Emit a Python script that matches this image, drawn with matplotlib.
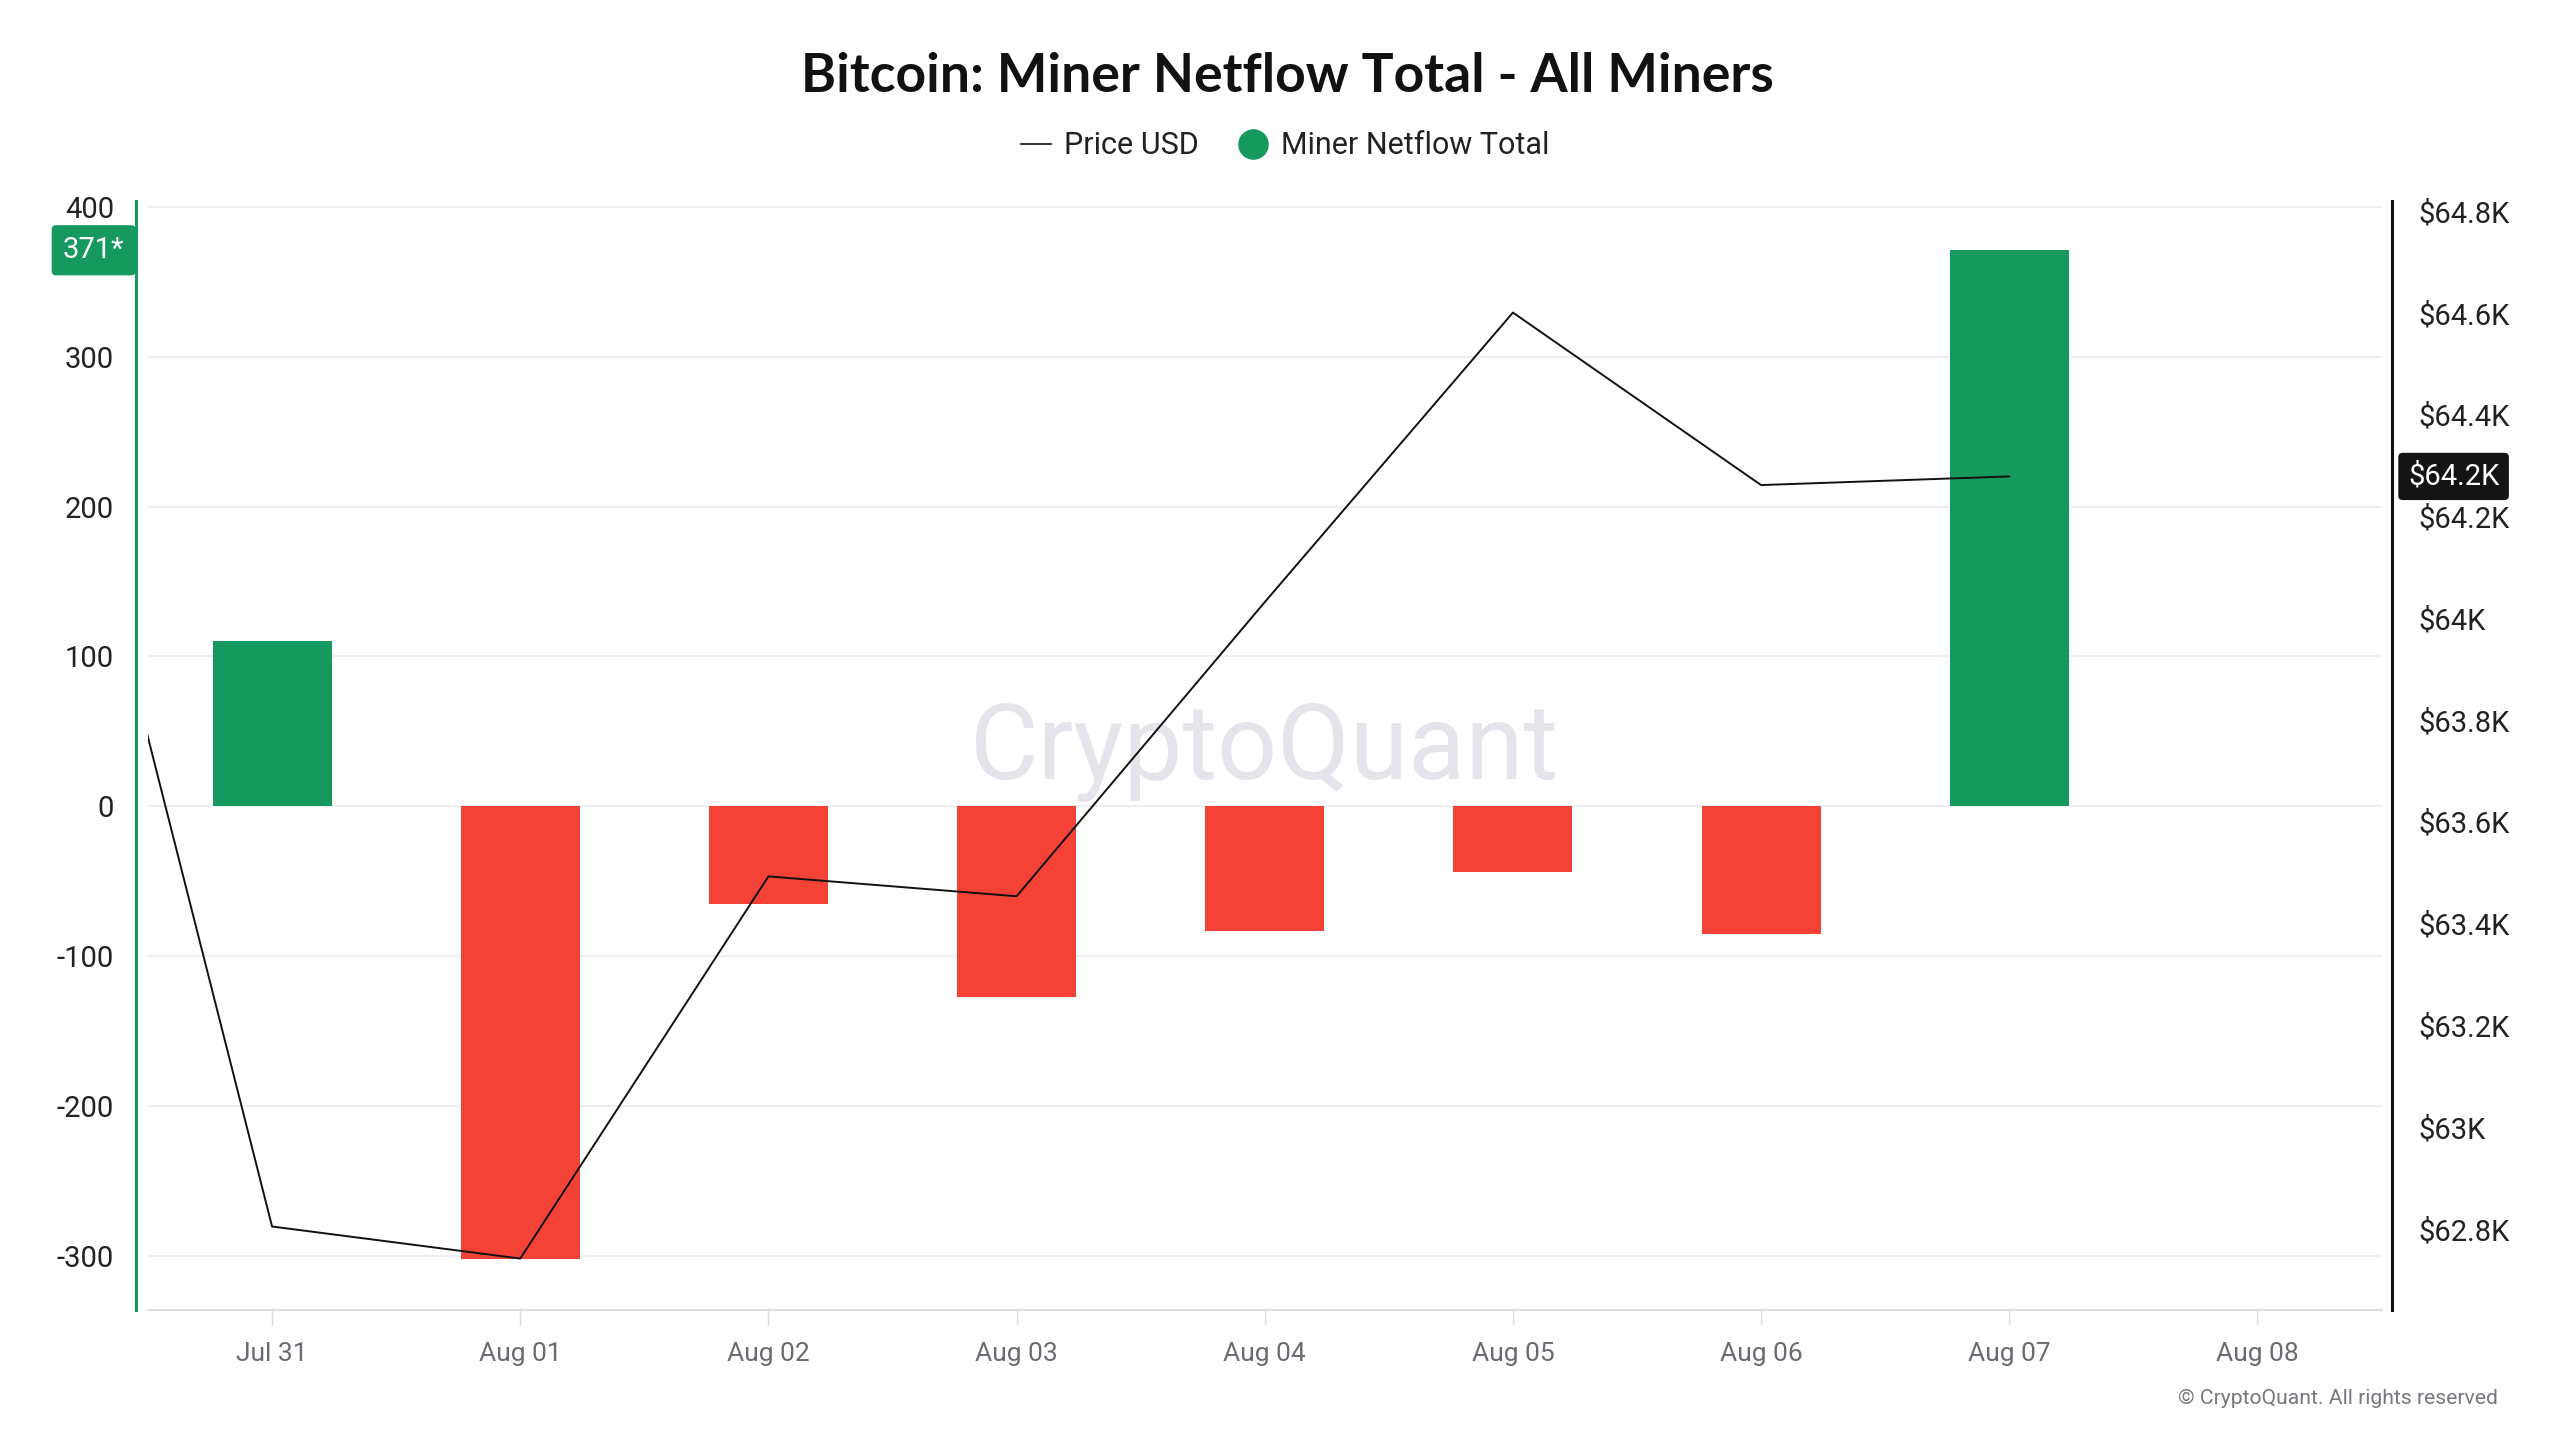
import matplotlib
matplotlib.use("Agg")
import matplotlib.pyplot as plt
from matplotlib.lines import Line2D

# ---------------- data ----------------
tick_labels = ["Jul 31", "Aug 01", "Aug 02", "Aug 03", "Aug 04", "Aug 05", "Aug 06", "Aug 07", "Aug 08"]
bar_dates = ["Jul 31", "Aug 01", "Aug 02", "Aug 03", "Aug 04", "Aug 05", "Aug 06", "Aug 07"]
netflow = [110, -302, -65, -127, -83, -44, -85, 371]
price_dates = ["Jul 30", "Jul 31", "Aug 01", "Aug 02", "Aug 03", "Aug 04", "Aug 05", "Aug 06", "Aug 07"]
price_usd = [64727, 62805, 62742, 63493, 63454, 64032, 64601, 64262, 64279]
left_ticks = [-300, -200, -100, 0, 100, 200, 300, 400]
right_ticks = [62800, 63000, 63200, 63400, 63600, 63800, 64000, 64200, 64400, 64600, 64800]

title = "Bitcoin: Miner Netflow Total - All Miners"
legend_labels = ["Price USD", "Miner Netflow Total"]

GREEN = "#16995f"
RED = "#f44336"
FONT = "Roboto"

all_days = ["Jul 30"] + tick_labels
pos = {d: i - 1 for i, d in enumerate(all_days)}

W, H = 2560, 1440
fig = plt.figure(figsize=(W / 100, H / 100), dpi=100)
fig.patch.set_facecolor("white")

ax_left, ax_right = 148 / W, 2381.5 / W
ax_bottom, ax_top = 1 - 1310 / H, 1 - 200.8 / H
ax = fig.add_axes([ax_left, ax_bottom, ax_right - ax_left, ax_top - ax_bottom])
ax2 = ax.twinx()

# bars
bx = [pos[d] for d in bar_dates]
colors = [GREEN if v >= 0 else RED for v in netflow]
ax.bar(bx, netflow, width=0.48, color=colors, zorder=2, linewidth=0)

ax.set_xlim(-0.5, 8.5)
ax.set_ylim(-336, 404)
ax.set_yticks(left_ticks)
ax.set_yticklabels([str(t) for t in left_ticks])
ax.set_xticks(range(len(tick_labels)))
ax.set_xticklabels(tick_labels)
ax.tick_params(axis="x", length=10.8, width=1, color="#dcdce2", pad=12,
               labelsize=19, labelcolor="#6b6b72", labelfontfamily=FONT)
ax.tick_params(axis="y", length=0, pad=16, labelsize=21, labelcolor="#222222", labelfontfamily=FONT)
ax.yaxis.grid(True, color="#efeff3", linewidth=1.5, zorder=0)
ax.set_axisbelow(True)

for s in ["top", "right"]:
    ax.spines[s].set_visible(False)
ax.spines["left"].set_color(GREEN)
ax.spines["left"].set_linewidth(2.2)
ax.spines["left"].set_position(("outward", 8.6))
ax.spines["bottom"].set_color("#dcdce2")
ax.spines["bottom"].set_linewidth(1.5)

# watermark
ax.text(0.5, 1 - (752 - 200.8) / (1310 - 200.8), "CryptoQuant", transform=ax.transAxes,
        ha="center", va="center", fontsize=76, color="#e4e5eb", family=FONT, zorder=1)

# price line
px = [pos[d] for d in price_dates]
ax2.plot(px, price_usd, color="#111111", linewidth=1.4, zorder=5)
p_top = 64800 - (397 - 404) * 2.9455
p_bot = 64800 - (397 + 336) * 2.9455
ax2.set_ylim(p_bot, p_top)
ax2.set_yticks(right_ticks)
ax2.set_yticklabels([f"${t/1000:g}K" for t in right_ticks])
ax2.tick_params(axis="y", length=0, pad=19, labelsize=21, labelcolor="#222222", labelfontfamily=FONT)
for s in ["top", "left", "bottom"]:
    ax2.spines[s].set_visible(False)
ax2.spines["right"].set_color("#111111")
ax2.spines["right"].set_linewidth(2.2)
ax2.spines["right"].set_position(("outward", 7.5))
ax2.set_xlim(-0.5, 8.5)

# value tags
last_price = price_usd[-1]
ax2.annotate(f"${int(last_price / 100) / 10}K", xy=(1, last_price), xycoords=("axes fraction", "data"),
             xytext=(19, 0), textcoords="offset points", ha="left", va="center",
             fontsize=21, color="white", family=FONT,
             bbox=dict(boxstyle="round,pad=0.33,rounding_size=0.15", fc="#141414", ec="none"),
             annotation_clip=False)
last_flow = netflow[-1]
ax.annotate(f"{last_flow}*", xy=(0, last_flow), xycoords=("axes fraction", "data"),
            xytext=(-17, 0), textcoords="offset points", ha="right", va="center",
            fontsize=21, color="white", family=FONT,
            bbox=dict(boxstyle="round,pad=0.38,rounding_size=0.15", fc=GREEN, ec="none"),
            annotation_clip=False)

# title & legend
fig.text(0.503, 1 - 76 / H, title, ha="center", va="center", fontsize=38.5, fontweight="bold",
         color="#111111", family="Lato")
handles = [Line2D([0], [0], color="#111111", linewidth=1.2),
           Line2D([0], [0], marker="o", linestyle="none", markersize=21, markerfacecolor=GREEN,
                  markeredgecolor=GREEN)]
fig.legend(handles, legend_labels, loc="center", bbox_to_anchor=(0.502, 1 - 146 / H), ncol=2,
           frameon=False, prop={"family": FONT, "size": 22}, handlelength=1.0, handletextpad=0.4,
           columnspacing=1.3, labelcolor="#222222")

fig.text(2498 / W, 1 - 1398 / H, "\u00a9 CryptoQuant. All rights reserved", ha="right", va="center",
         fontsize=15.2, color="#77777d", family=FONT)

fig.savefig("out.png", dpi=100, facecolor="white")
